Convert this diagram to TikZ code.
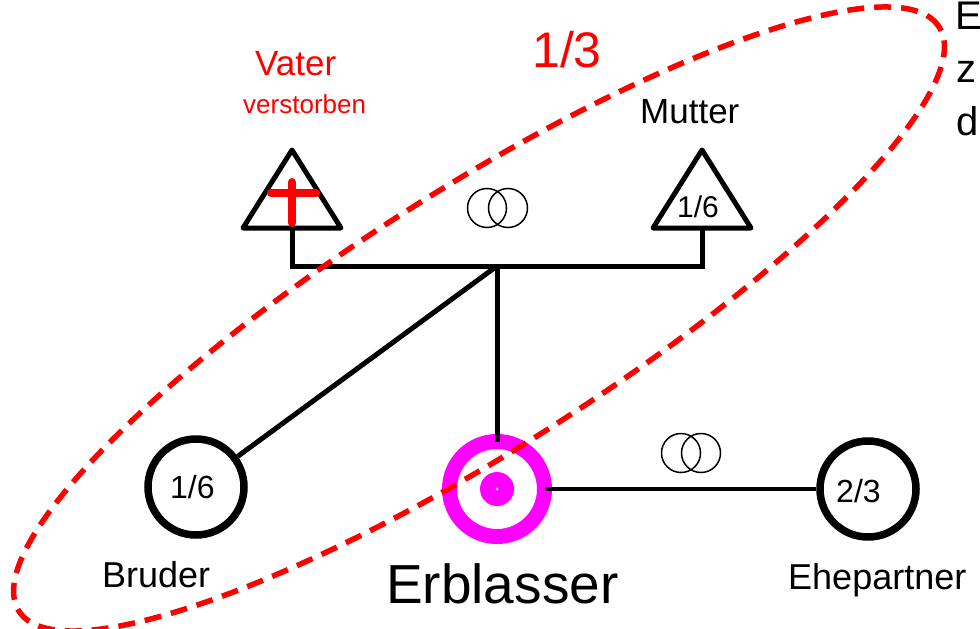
\documentclass[tikz,border=0pt]{standalone}
\usepackage{fontspec}
\setmainfont{Liberation Sans}
\definecolor{mag}{RGB}{255,0,255}
\definecolor{rd}{RGB}{255,0,0}
\begin{document}
\begin{tikzpicture}[x=1pt,y=-1pt,
  tree/.style={line width=5pt,line join=miter},
  tri/.style={line width=5pt,line join=round},
  person/.style={circle,draw,line width=7.5pt,minimum size=96pt,inner sep=0pt},
  ring/.style={line width=1.5pt},
  lbl/.style={anchor=base west,inner sep=0pt},
  redt/.style={text=rd}]
\useasboundingbox (0,0) rectangle (980,629);
% Vater triangle
\coordinate (va) at (292,150);
\coordinate (vl) at (243,228);
\coordinate (vr) at (341,228);
\coordinate (vb) at (292,228);
\draw[tri] (va) -- (vl) -- (vr) -- cycle;
\draw[rd,line width=8pt,line cap=round] (292,182) -- (292,223);
\draw[rd,line width=8pt,line cap=round] (271,193) -- (316,193);
% Mutter triangle
\coordinate (ma) at (702,150);
\coordinate (ml) at (653,228);
\coordinate (mr) at (751,228);
\coordinate (mb) at (702,228);
\draw[tri] (ma) -- (ml) -- (mr) -- cycle;
% junction
\coordinate (j) at (497,266);
\draw[tree] (vb) -- (vb |- j) -- (mb |- j) -- (mb);
% rings
\draw[ring] (487,208) circle[radius=19.5pt] (508,208) circle[radius=19.5pt];
\draw[ring] (681,453) circle[radius=19.5pt] (701,453) circle[radius=19.5pt];
% persons
\node[person] (bruder) at (196,487) {};
\node[person] (ehe) at (868,489) {};
\node[circle,draw=mag,line width=15pt,minimum size=95pt,inner sep=0pt] (erb) at (497,489) {};
\fill[mag] (erb.center) circle[radius=17pt];
\fill[white] (erb.center) circle[radius=1.5pt];
% connectors
\draw[tree] (j) -- (bruder);
\draw[tree,shorten >=47pt] (j) -- (erb.center);
\draw[line width=4pt,shorten <=48pt] (erb.center) -- (ehe);
% texts
\node[lbl,redt,font=\fontsize{35}{40}\selectfont] (tvater) at (255,75) {Vater};
\node[lbl,redt,font=\fontsize{26}{30}\selectfont] (tverst) at (243,113) {verstorben};
\node[lbl,redt,font=\fontsize{50}{56}\selectfont] (tdrittel) at (532,67) {1/3};
\node[lbl,font=\fontsize{35}{40}\selectfont] (tmutter) at (640,123) {Mutter};
\node[lbl,font=\fontsize{30}{34}\selectfont] (tm16) at (677,217) {1/6};
\node[lbl,font=\fontsize{32}{36}\selectfont] (tb16) at (170,498) {1/6};
\node[lbl,font=\fontsize{32}{36}\selectfont] (te23) at (836,502) {2/3};
\node[lbl,font=\fontsize{36}{40}\selectfont] (tbruder) at (102,587) {Bruder};
\node[lbl,font=\fontsize{55}{60}\selectfont] (terb) at (386,603) {Erblasser};
\node[lbl,font=\fontsize{36}{40}\selectfont] (tehe) at (788,589) {Ehepartner};
\node[lbl,font=\fontsize{40}{44}\selectfont] (tE) at (955,29) {E};
\node[lbl,font=\fontsize{40}{44}\selectfont] (tz) at (956,82) {z};
\node[lbl,font=\fontsize{40}{44}\selectfont] (td) at (956,135) {d};
% dashed ellipse
\begin{scope}[shift={(479,319)},rotate=32.4]
\draw[rd,line width=5.5pt,dash pattern=on 17pt off 10pt] (0,0) ellipse[x radius=545pt,y radius=130pt];
\end{scope}
\end{tikzpicture}
\end{document}
